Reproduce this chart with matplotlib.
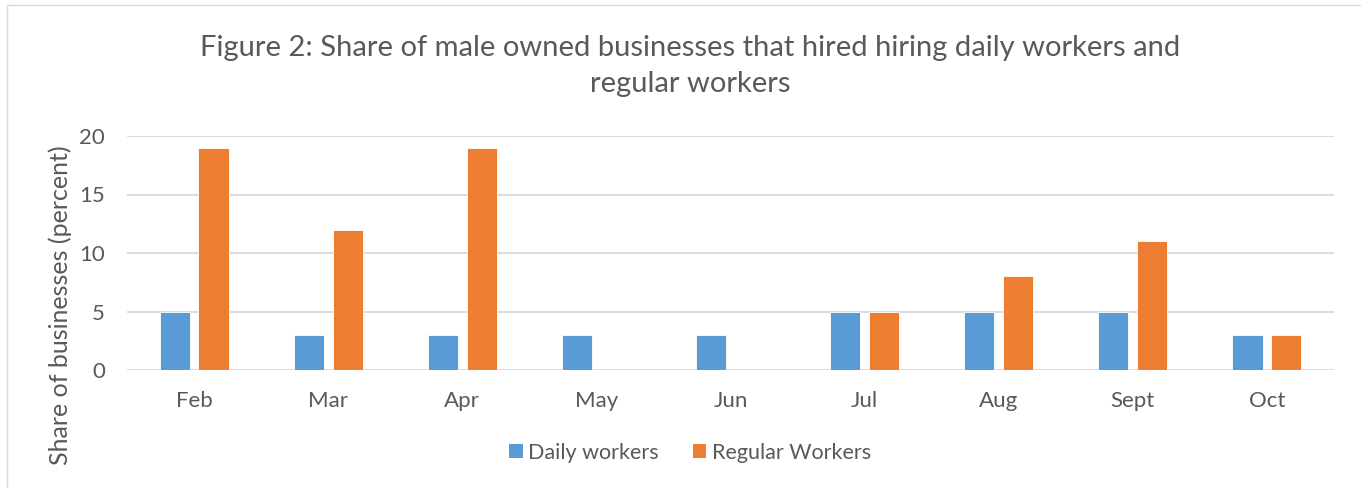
import matplotlib.pyplot as plt
import numpy as np
from matplotlib.patches import Rectangle, Patch

months = ['Feb', 'Mar', 'Apr', 'May', 'Jun', 'Jul', 'Aug', 'Sept', 'Oct']
daily_workers = [5, 3, 3, 3, 3, 5, 5, 5, 3]
regular_workers = [19, 12, 19, 0, 0, 5, 8, 11, 3]

BLUE = '#5B9BD5'
ORANGE = '#ED7D31'
TEXT = '#595959'
GRID = '#D9D9D9'

plt.rcParams['font.family'] = ['Lato', 'DejaVu Sans']

fig = plt.figure(figsize=(13.61, 4.88), dpi=100)
# chart border (image looks cropped at right/bottom)
fig.patches.append(Rectangle((7 / 1361, -0.1), 1.2, 1 - 5 / 488 + 0.1,
                             transform=fig.transFigure, fill=False,
                             edgecolor='#D9D9D9', linewidth=1))

ax = fig.add_axes([127 / 1361, 1 - 370 / 488, (1334 - 127) / 1361, (370 - 136) / 488])

x = np.arange(len(months))
w = 0.224
off = 0.145
ax.bar(x - off, daily_workers, width=w, color=BLUE, edgecolor='white', linewidth=0.6, zorder=3)
ax.bar(x + off, regular_workers, width=w, color=ORANGE, edgecolor='white', linewidth=0.6, zorder=3)

ax.set_xlim(-0.5, len(months) - 0.5)
ax.set_ylim(0, 20)
ax.set_yticks([0, 5, 10, 15, 20])
ax.set_xticks(x)
ax.set_xticklabels(months)
ax.yaxis.grid(True, color=GRID, linewidth=1.3, zorder=0)
for s in ax.spines.values():
    s.set_visible(False)
ax.tick_params(axis='both', length=0, labelsize=16, labelcolor=TEXT)
ax.tick_params(axis='x', pad=15)
ax.tick_params(axis='y', pad=16)

fig.text(690 / 1361, 1 - 66 / 488,
         'Figure 2: Share of male owned businesses that hired hiring daily workers and\nregular workers',
         ha='center', va='center', fontsize=21, color=TEXT, linespacing=1.5)
fig.text(60 / 1361, 1 - 305 / 488, 'Share of businesses (percent)', rotation=90,
         ha='center', va='center', fontsize=18, color=TEXT)

handles = [Patch(facecolor=BLUE, label='Daily workers'),
           Patch(facecolor=ORANGE, label='Regular Workers')]
fig.legend(handles=handles, loc='center', bbox_to_anchor=(690 / 1361, 1 - 453 / 488),
           ncol=2, frameon=False, fontsize=15.5, labelcolor=TEXT,
           handlelength=0.62, handleheight=0.62, handletextpad=0.25, columnspacing=1.6)

fig.savefig('out.png', dpi=100)
